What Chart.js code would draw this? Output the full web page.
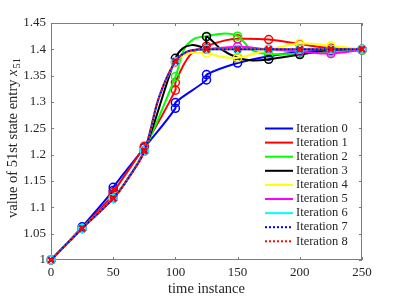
<!DOCTYPE html>
<html>
<head>
<meta charset="utf-8">
<script src="https://cdn.jsdelivr.net/npm/chart.js@4.4.1/dist/chart.umd.min.js"></script>
<style>
  html, body { margin: 0; padding: 0; background: #fff; }
  canvas { display: block; }
</style>
</head>
<body>
<canvas id="stateChart" width="399" height="299"></canvas>
<script>
// values
const seriesNames = ["Iteration 0", "Iteration 1", "Iteration 2", "Iteration 3", "Iteration 4",
  "Iteration 5", "Iteration 6", "Iteration 7", "Iteration 8"];
const seriesColors = ["#0000ff", "#ff0000", "#00ff00", "#000000", "#ffff00",
  "#ff00ff", "#00ffff", "#0000ff", "#ff0000"];
const xTicks = [0, 50, 100, 150, 200, 250];
const yTicks = [1, 1.05, 1.1, 1.15, 1.2, 1.25, 1.3, 1.35, 1.4, 1.45];

const iter0Time = [0, 25, 50, 50, 75, 100, 100, 125, 125, 150, 175, 200, 225, 250];
const iter0Value = [1.0, 1.063, 1.132, 1.138, 1.213, 1.288, 1.299, 1.342, 1.352, 1.374, 1.387, 1.395, 1.398, 1.4];

const iter1Time = [0, 25, 50, 50, 75, 100, 100, 112, 125, 140, 150, 175, 200, 225, 250];
const iter1Value = [1.0, 1.06, 1.124, 1.128, 1.216, 1.3225, 1.337, 1.39, 1.406, 1.417, 1.42, 1.4186, 1.41, 1.402, 1.4];

const iter2Time = [0, 25, 50, 62, 75, 100, 107, 115, 125, 140, 150, 162, 175, 200, 225, 250];
const iter2Value = [1.0, 1.06, 1.117, 1.155, 1.208, 1.348, 1.4, 1.42, 1.425, 1.43, 1.425, 1.398, 1.391, 1.392, 1.395, 1.398];

const iter3Time = [0, 25, 50, 62, 75, 100, 106, 113, 119, 125, 125, 137, 150, 162, 175, 200, 225, 250];
const iter3Value = [1.0, 1.06, 1.117, 1.155, 1.207, 1.383, 1.402, 1.408, 1.406, 1.401, 1.424, 1.4, 1.384, 1.379, 1.381, 1.39, 1.399, 1.4];

const iter4Time = [0, 25, 50, 62, 75, 87, 100, 110, 125, 137, 150, 175, 200, 225, 250];
const iter4Value = [1.0, 1.06, 1.117, 1.155, 1.207, 1.31, 1.375, 1.392, 1.393, 1.386, 1.384, 1.399, 1.411, 1.407, 1.4];

const iter5Time = [0, 25, 50, 62, 75, 87, 100, 110, 125, 150, 175, 200, 225, 250];
const iter5Value = [1.0, 1.06, 1.117, 1.155, 1.207, 1.31, 1.376, 1.396, 1.4, 1.405, 1.4, 1.396, 1.392, 1.399];

const iter6Time = [0, 25, 50, 62, 75, 87, 100, 110, 125, 150, 175, 200, 225, 250];
const iter6Value = [1.0, 1.06, 1.117, 1.155, 1.207, 1.31, 1.377, 1.396, 1.4, 1.4, 1.4, 1.4, 1.4, 1.4];

const iter7Time = [0, 25, 50, 62, 75, 87, 100, 110, 125, 150, 175, 200, 225, 250];
const iter7Value = [1.0, 1.06, 1.117, 1.155, 1.207, 1.31, 1.377, 1.396, 1.4, 1.4, 1.4, 1.4, 1.4, 1.4];

const iter8Time = [0, 25, 50, 62, 75, 87, 100, 110, 125, 150, 175, 200, 225, 250];
const iter8Value = [1.0, 1.06, 1.117, 1.155, 1.207, 1.31, 1.377, 1.396, 1.4, 1.4, 1.4, 1.4, 1.4, 1.4];

const allTimes = [iter0Time, iter1Time, iter2Time, iter3Time, iter4Time, iter5Time, iter6Time, iter7Time, iter8Time];
const allValues = [iter0Value, iter1Value, iter2Value, iter3Value, iter4Value, iter5Value, iter6Value, iter7Value, iter8Value];

const serif = "'Liberation Serif', 'Times New Roman', serif";
const frameColor = "#7d7d7d";
const textColor = "#262626";
const titleSize = 14.5;

function markerRadius(c) {
  // markers only on the sampled instants (every 25)
  return c.raw && c.raw.x % 25 === 0 ? 4 : 0;
}

const datasets = seriesNames.map((name, i) => {
  const dotted = i >= 7;
  return {
    label: name,
    data: allTimes[i].map((t, k) => ({ x: t, y: allValues[i][k] })),
    borderColor: seriesColors[i],
    borderWidth: 2,
    borderDash: dotted ? [2, 2] : [],
    borderDashOffset: i === 8 ? 2 : 0,
    tension: 0.35,
    pointStyle: dotted ? "crossRot" : "circle",
    pointRadius: markerRadius,
    pointBorderWidth: dotted ? 2 : 1.5,
    pointBorderColor: seriesColors[i],
    pointBackgroundColor: "rgba(0,0,0,0)",
    clip: false,
    order: 9 - i,
  };
});

const framePlugin = {
  id: "frame",
  beforeDatasetsDraw(chart) {
    const { ctx, chartArea: a, scales } = chart;
    ctx.save();
    ctx.strokeStyle = frameColor;
    ctx.lineWidth = 1;
    ctx.strokeRect(a.left + 0.5, a.top + 0.5, a.right - a.left - 1, a.bottom - a.top - 1);
    ctx.beginPath();
    xTicks.forEach((v) => {
      const px = Math.round(scales.x.getPixelForValue(v)) + 0.5;
      ctx.moveTo(px, a.bottom);
      ctx.lineTo(px, a.bottom - 3);
      ctx.moveTo(px, a.top);
      ctx.lineTo(px, a.top + 3);
    });
    yTicks.forEach((v) => {
      const py = Math.round(scales.y.getPixelForValue(v)) + 0.5;
      ctx.moveTo(a.left, py);
      ctx.lineTo(a.left + 3, py);
      ctx.moveTo(a.right, py);
      ctx.lineTo(a.right - 3, py);
    });
    ctx.stroke();
    ctx.restore();
  },
  afterDraw(chart) {
    const { ctx, chartArea: a } = chart;
    ctx.save();
    ctx.fillStyle = textColor;

    // x axis title
    ctx.font = titleSize + "px " + serif;
    ctx.textAlign = "center";
    ctx.textBaseline = "middle";
    ctx.fillText("time instance", (a.left + a.right) / 2, 289);

    // y axis title with italic x and subscript 51
    const mainText = "value of 51st state entry ";
    ctx.font = titleSize + "px " + serif;
    const w1 = ctx.measureText(mainText).width;
    ctx.font = "italic " + titleSize + "px " + serif;
    const w2 = ctx.measureText("x").width;
    ctx.font = "10.5px " + serif;
    const w3 = ctx.measureText("51").width;
    const total = w1 + w2 + w3 + 1;
    ctx.translate(17, 138);
    ctx.rotate(-Math.PI / 2);
    ctx.textAlign = "left";
    ctx.textBaseline = "alphabetic";
    let sx = -total / 2;
    ctx.font = titleSize + "px " + serif;
    ctx.fillText(mainText, sx, 0);
    sx += w1;
    ctx.font = "italic " + titleSize + "px " + serif;
    ctx.fillText("x", sx, 0);
    sx += w2 + 1;
    ctx.font = "10.5px " + serif;
    ctx.fillText("51", sx, 3);
    ctx.restore();

    // legend inside the axes, lower right
    ctx.save();
    ctx.font = "12.5px " + serif;
    ctx.textBaseline = "middle";
    ctx.textAlign = "left";
    datasets.forEach((ds, i) => {
      const y = 128.5 + i * 14.1;
      ctx.strokeStyle = ds.borderColor;
      ctx.lineWidth = 2;
      ctx.setLineDash(ds.borderDash);
      ctx.beginPath();
      ctx.moveTo(265, y);
      ctx.lineTo(293, y);
      ctx.stroke();
      ctx.setLineDash([]);
      ctx.fillStyle = textColor;
      ctx.fillText(ds.label, 296, y);
    });
    ctx.restore();
  },
};

new Chart(document.getElementById("stateChart"), {
  type: "line",
  data: { datasets },
  options: {
    responsive: false,
    animation: false,
    devicePixelRatio: 1,
    events: [],
    layout: { padding: { left: 0, right: 37, top: 23, bottom: 0 } },
    plugins: { legend: { display: false }, tooltip: { enabled: false } },
    scales: {
      x: {
        type: "linear",
        min: 0,
        max: 250,
        afterFit: (s) => { s.height = 39; },
        afterBuildTicks: (s) => { s.ticks = xTicks.map((v) => ({ value: v })); },
        ticks: { color: textColor, font: { family: serif, size: 13 }, padding: 5, maxRotation: 0 },
        grid: { display: false, drawTicks: false, tickLength: 0 },
        border: { display: false },
      },
      y: {
        type: "linear",
        min: 1,
        max: 1.45,
        afterFit: (s) => { s.width = 51; },
        afterBuildTicks: (s) => { s.ticks = yTicks.map((v) => ({ value: v })); },
        ticks: {
          color: textColor,
          font: { family: serif, size: 13 },
          padding: 5,
          callback: (v) => String(+Number(v).toFixed(2)),
        },
        grid: { display: false, drawTicks: false, tickLength: 0 },
        border: { display: false },
      },
    },
  },
  plugins: [framePlugin],
});
</script>
</body>
</html>
